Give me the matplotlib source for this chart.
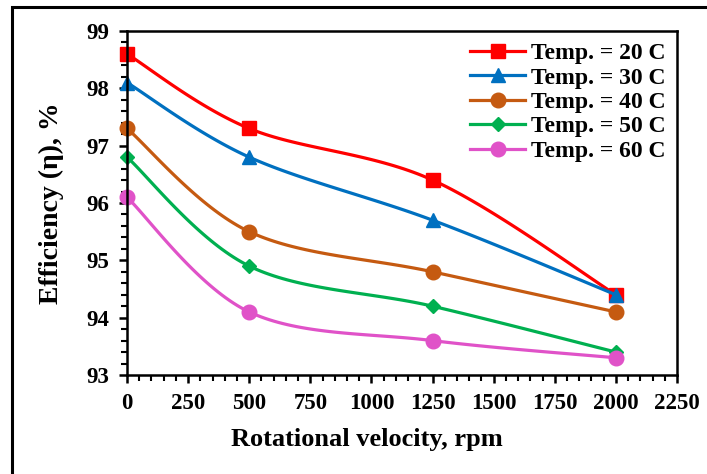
import numpy as np
import matplotlib
matplotlib.use("Agg")
import matplotlib.pyplot as plt
from matplotlib.patches import Rectangle
from matplotlib.ticker import MultipleLocator

plt.rcParams["font.family"] = ["Liberation Serif", "DejaVu Serif"]
plt.rcParams["font.weight"] = "bold"

rpm = [0, 500, 1250, 2000]
labels = ["Temp. = 20 C", "Temp. = 30 C", "Temp. = 40 C", "Temp. = 50 C", "Temp. = 60 C"]
eff_20 = [98.6, 97.3, 96.4, 94.4]
eff_30 = [98.1, 96.8, 95.7, 94.4]
eff_40 = [97.3, 95.5, 94.8, 94.1]
eff_50 = [96.8, 94.9, 94.2, 93.4]
eff_60 = [96.1, 94.1, 93.6, 93.3]

colors = ["#FF0000", "#0070C0", "#C55A11", "#00B050", "#E052C8"]
markers = ["s", "^", "o", "D", "o"]
msizes = [10.5, 10.5, 10.5, 7.5, 10.5]


def smooth(x, y, n=40):
    # Catmull-Rom style curve through the points, like Excel's smoothed line
    x = np.asarray(x, float)
    y = np.asarray(y, float)
    px = np.concatenate([[x[0]], x, [x[-1]]])
    py = np.concatenate([[y[0]], y, [y[-1]]])
    xs, ys = [], []
    t = np.linspace(0, 1, n)
    for i in range(1, len(px) - 2):
        p0, p1, p2, p3 = (np.array([px[j], py[j]]) for j in range(i - 1, i + 3))
        c1 = p1 + (p2 - p0) / 6
        c2 = p2 - (p3 - p1) / 6
        b = ((1 - t) ** 3)[:, None] * p1 + (3 * (1 - t) ** 2 * t)[:, None] * c1 \
            + (3 * (1 - t) * t ** 2)[:, None] * c2 + (t ** 3)[:, None] * p2
        xs.append(b[:, 0])
        ys.append(b[:, 1])
    return np.concatenate(xs), np.concatenate(ys)


fig = plt.figure(figsize=(7.07, 4.74), dpi=100)
fig.patches.append(Rectangle((12 / 707, -0.1), 1.2, 1 - 7 / 474 + 0.1,
                             transform=fig.transFigure, fill=False,
                             edgecolor="black", linewidth=2.2))
ax = fig.add_axes([127 / 707, 1 - 375 / 474, 550 / 707, 344 / 474])

for ys, lab, c, m, ms in zip([eff_20, eff_30, eff_40, eff_50, eff_60],
                             labels, colors, markers, msizes):
    sx, sy = smooth(rpm, ys)
    ax.plot(sx, sy, color=c, linewidth=2.3)
    ax.plot(rpm, ys, linestyle="none", marker=m, markersize=ms, color=c, clip_on=False)
    ax.plot([], [], color=c, linewidth=2.3, marker=m, markersize=ms, label=lab)

ax.set_xlim(0, 2250)
ax.set_ylim(93, 99)
ax.xaxis.set_major_locator(MultipleLocator(250))
ax.xaxis.set_minor_locator(MultipleLocator(50))
ax.yaxis.set_major_locator(MultipleLocator(1))
ax.yaxis.set_minor_locator(MultipleLocator(0.2))
ax.tick_params(which="major", direction="out", length=6, width=1.8, labelsize=16.5, pad=7)
ax.tick_params(which="minor", direction="out", length=4, width=1.5)
for sp in ax.spines.values():
    sp.set_linewidth(1.8)
for lbl in ax.get_xticklabels() + ax.get_yticklabels():
    lbl.set_fontweight("bold")

ax.set_xlabel("Rotational velocity, rpm", fontsize=19, fontweight="bold", labelpad=14)
ax.xaxis.set_label_coords(0.436, -0.155)
ax.set_ylabel("Efficiency (η), %", fontsize=20, fontweight="bold", labelpad=16)

leg = ax.legend(loc="upper right", frameon=False, fontsize=17, handlelength=2.3,
                handletextpad=0.25, labelspacing=0.12, borderaxespad=0.1)
for t in leg.get_texts():
    t.set_fontweight("bold")

fig.savefig("out.png", dpi=100)
